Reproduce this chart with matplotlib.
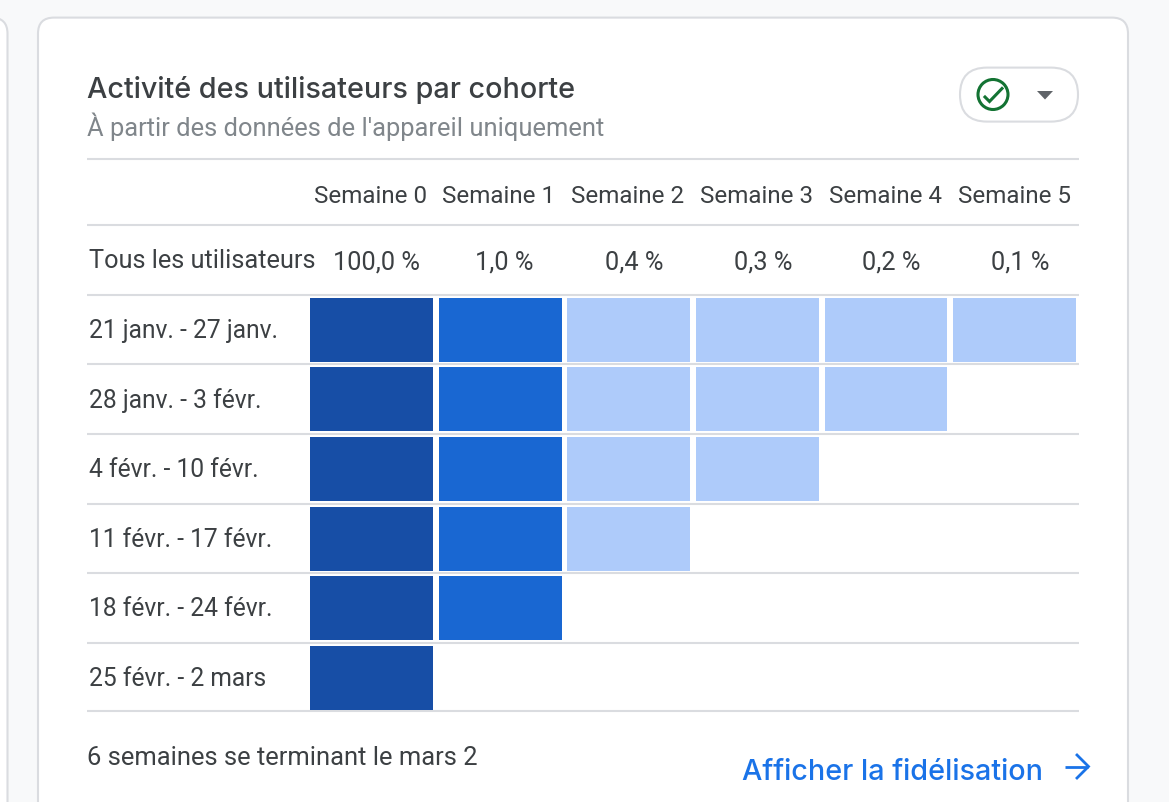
import matplotlib
matplotlib.use("Agg")
import matplotlib.pyplot as plt
from matplotlib.patches import FancyBboxPatch, Circle

title = "Activité des utilisateurs par cohorte"
subtitle = "À partir des données de l'appareil uniquement"
weeks = ["Semaine 0", "Semaine 1", "Semaine 2", "Semaine 3", "Semaine 4", "Semaine 5"]
all_users_label = "Tous les utilisateurs"
all_users = ["100,0 %", "1,0 %", "0,4 %", "0,3 %", "0,2 %", "0,1 %"]
cohorts = ["21 janv. - 27 janv.", "28 janv. - 3 févr.", "4 févr. - 10 févr.",
           "11 févr. - 17 févr.", "18 févr. - 24 févr.", "25 févr. - 2 mars"]
# retention per cohort, estimated from the colour of each cell
retention = [
    [100, 1.0, 0.4, 0.3, 0.2, 0.1],
    [100, 1.0, 0.4, 0.3, 0.2],
    [100, 1.0, 0.4, 0.3],
    [100, 1.0, 0.4],
    [100, 1.0],
    [100],
]
footer = "6 semaines se terminant le mars 2"
link = "Afficher la fidélisation"

W, H = 1169, 803
TEXT = "#3c4043"
GREY = "#5f6368"
LINE = "#dadce0"
BLUE = "#1a73e8"


def cell_color(v):
    if v >= 50:
        return "#174ea6"
    if v >= 1:
        return "#1967d2"
    return "#aecbfa"


fig = plt.figure(figsize=(W / 100, H / 100), dpi=100, facecolor="#f8f9fa")

# page axes in pixels, for the card and its text
ax = fig.add_axes([0, 0, 1, 1])
ax.set_xlim(0, W)
ax.set_ylim(H - 1, -1)
ax.axis("off")

ax.add_patch(FancyBboxPatch((-40, 17.6), 47.5, 900, boxstyle="round,pad=0,rounding_size=16",
                            fc="white", ec=LINE, lw=1.5))
ax.add_patch(FancyBboxPatch((38, 17.6), 1090, 900, boxstyle="round,pad=0,rounding_size=16",
                            fc="white", ec=LINE, lw=1.5))

ax.text(87, 89, title, fontsize=20.7, family="Inter", weight="medium", color=TEXT, va="center")
ax.text(87, 126, subtitle, fontsize=18.4, family="Roboto", color="#80868b", va="center")

# status button
ax.add_patch(FancyBboxPatch((960, 67.6), 118, 54, boxstyle="round,pad=0,rounding_size=27",
                            fc="white", ec=LINE, lw=1.5))
ax.add_patch(Circle((993, 94.5), 15, fc="none", ec="#137333", lw=2.2))
ax.plot([985, 989.5, 1002], [97, 101.5, 88.5], color="#137333", lw=2.2, solid_joinstyle="miter")
ax.fill([1037, 1053, 1045], [91, 91, 99.5], color=GREY, lw=0)

for y in [158.8, 225, 294.8, 364.4, 434, 503.6, 573, 643, 710.8]:
    ax.plot([87, 1079], [y, y], color=LINE, lw=1.5, solid_capstyle="butt")

col_centers = [370.5, 498.5, 628, 757, 885.5, 1014]
for x, w in zip(col_centers, weeks):
    ax.text(x, 195.5, w, fontsize=17.4, family="Roboto", color=TEXT, ha="center", va="center")
ax.text(89, 260, all_users_label, fontsize=18.3, family="Roboto", color=TEXT, va="center")
for x, v in zip(col_centers, all_users):
    ax.text(x + 6, 262, v, fontsize=18.3, family="Roboto", color=TEXT, ha="center", va="center")

for i, c in enumerate(cohorts):
    ax.text(89, 330 + i * 69.6, c, fontsize=17.7, family="Roboto", color=TEXT, va="center")

ax.text(87, 757, footer, fontsize=18.4, family="Roboto", color=TEXT, va="center")
ax.text(742, 771.5, link, fontsize=20.7, family="Inter", weight="medium", color=BLUE, va="center")
ax.plot([1065, 1088], [766.5, 766.5], color=BLUE, lw=2, solid_capstyle="butt")
ax.plot([1077, 1088.5, 1077], [755, 766.5, 778], color=BLUE, lw=2, solid_joinstyle="miter")

# heatmap axes: one unit per cell
hm = fig.add_axes([307.5 / W, 1 - 713.5 / H, (1078.8 - 307.5) / W, 417.5 / H])
hm.set_xlim(-0.5, 5.5)
hm.set_ylim(5.5, -0.5)
hm.axis("off")
hm.patch.set_alpha(0)
for r, row in enumerate(retention):
    for c, v in enumerate(row):
        hm.bar(c, 0.92, width=0.956, bottom=r - 0.46, color=cell_color(v), lw=0)

fig.savefig("out.png", dpi=100, facecolor=fig.get_facecolor())
